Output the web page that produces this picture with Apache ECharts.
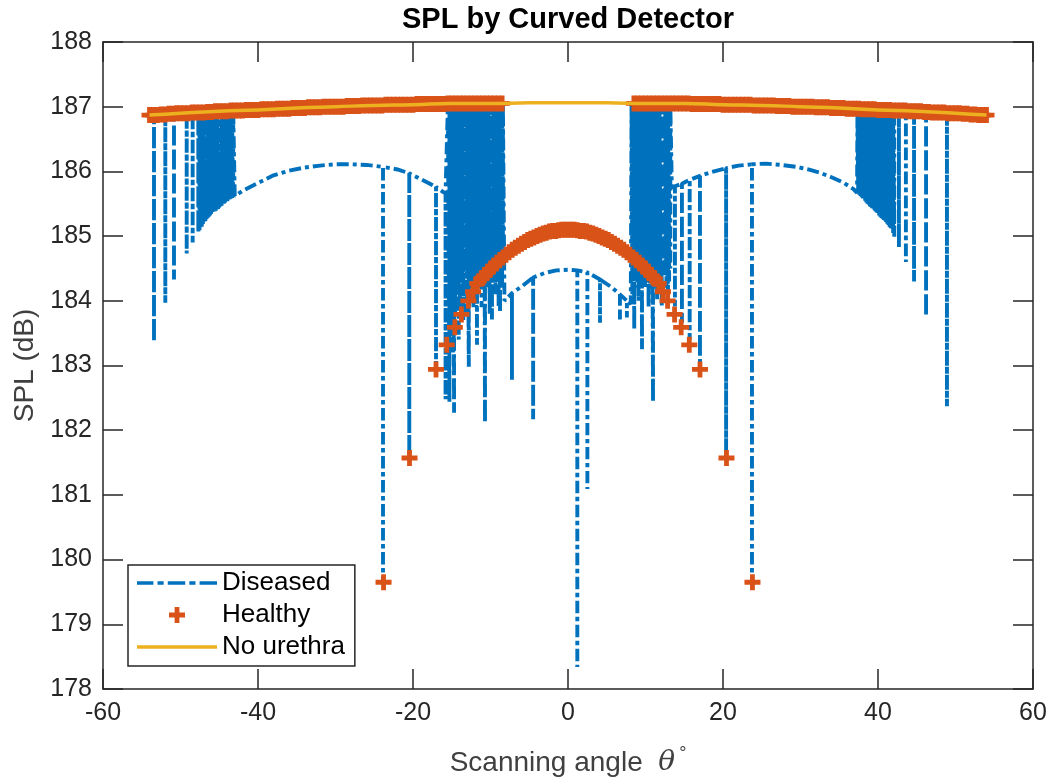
<!DOCTYPE html>
<html>
<head>
<meta charset="utf-8">
<script src="https://cdn.jsdelivr.net/npm/echarts@6/dist/echarts.min.js"></script>
<style>
  html, body { margin: 0; padding: 0; background: #fff; }
  #chart { width: 1052px; height: 782px; }
</style>
</head>
<body>
<div id="chart"></div>
<script>
// Diseased trace, left to right. [angle, level] is a plain point;
// [angle, level, dip] drops from level to dip and back at that angle.
const diseasedTrace = [
  [-53.8, 186.87],
  [-53.42, 186.87, 183.37], [-51.96, 186.88, 183.97], [-50.84, 186.89, 184.33],
  [-49.2, 186.90, 184.73], [-48.43, 186.91, 184.90],
  [-47.7,186.91,185.05],[-47.55,186.91,185.09],[-47.4,186.91,185.12],[-47.25,186.91,185.15],
  [-47.1,186.92,185.17],[-46.95,186.92,185.20],[-46.8,186.92,185.23],[-46.65,186.92,185.26],
  [-46.5,186.92,185.28],[-46.35,186.92,185.30],[-46.2,186.92,185.32],[-46.05,186.92,185.34],
  [-45.9,186.92,185.35],[-45.75,186.93,185.37],[-45.6,186.93,185.38],[-45.45,186.93,185.39],
  [-45.3,186.93,185.40],[-45.15,186.93,185.42],[-45.0,186.93,185.44],[-44.85,186.93,185.46],
  [-44.7,186.93,185.47],[-44.55,186.93,185.49],[-44.4,186.93,185.50],[-44.25,186.93,185.52],
  [-44.1,186.93,185.53],[-43.95,186.94,185.54],[-43.8,186.94,185.55],[-43.65,186.94,185.57],
  [-43.5,186.94,185.58],[-43.35,186.94,185.59],[-43.2,186.94,185.60],
  [-43.0, 186.94], [-43.0, 185.62],
  [-42.0, 185.70], [-40.0, 185.82], [-38.0, 185.94], [-36.0, 186.01],
  [-34.0, 186.06], [-32.0, 186.09], [-30.0, 186.11], [-28.0, 186.11],
  [-26.0, 186.10], [-23.87, 186.07, 179.65], [-22.0, 186.03],
  [-20.48, 185.97, 181.57], [-19.0, 185.88], [-17.03, 185.76, 182.96],
  [-16.1, 185.68], [-15.8, 185.66, 182.48],
  [-15.5, 187.04],
  [-15.3,187.04,182.44],[-15.15,187.04,184.0],[-15.0,187.04,183.60],[-14.85,187.04,183.2],
  [-14.7,187.04,182.27],[-14.55,187.04,183.8],[-14.4,187.04,184.20],[-14.25,187.04,184.1],
  [-14.1,187.04,183.40],[-13.95,187.04,183.9],[-13.8,187.04,184.40],[-13.65,187.05,184.3],
  [-13.5,187.05,183.70],[-13.35,187.05,184.2],[-13.2,187.05,184.50],[-13.0,187.05,183.8],
  [-12.8,187.05,182.98],[-12.65,187.05,184.4],[-12.5,187.05,184.30],[-12.35,187.05,184.0],
  [-12.2,187.05,183.90],[-12.08,187.05,184.3],[-11.95,187.05,184.50],[-11.85,187.05,183.9],
  [-11.74,187.05,183.32],[-11.6,187.05,184.2],[-11.45,187.05,184.40],[-11.3,187.05,184.5],
  [-11.15,187.05,183.90],[-11.02,187.05,184.2],[-10.9,187.05,184.60],[-10.8,187.05,184.4],
  [-10.71,187.05,182.12],[-10.55,187.05,184.2],[-10.4,187.05,184.50],[-10.25,187.05,184.4],
  [-10.1,187.05,183.80],[-9.95,187.05,184.2],[-9.81,187.05,183.71],[-9.65,187.05,184.5],
  [-9.5,187.05,184.30],[-9.35,187.05,184.1],[-9.2,187.05,184.60],[-9.07,187.05,184.4],
  [-8.95,187.05,183.90],[-8.85,187.05,184.5],[-8.77,187.05,183.82],[-8.62,187.05,184.3],
  [-8.5,187.05,184.20],[-8.4,187.05,184.5],
  [-8.3, 187.05],
  [-8.2, 184.00], [-7.23, 184.12, 182.78], [-6.0, 184.22],
  [-4.5, 184.36, 182.17], [-3.0, 184.43], [-1.5, 184.47], [0.0, 184.48],
  [1.2, 184.47, 178.34], [2.5, 184.44, 181.09], [4.13, 184.33, 183.66],
  [5.5, 184.22], [6.7, 184.10, 183.71], [7.6, 184.00, 183.74], [8.1, 183.95],
  [8.2, 187.05],
  [8.3,187.05,184.10],[8.42,187.05,184.3],[8.55,187.05,183.56],[8.68,187.05,184.5],
  [8.8,187.05,184.40],[8.95,187.05,184.2],[9.1,187.05,184.00],[9.22,187.05,184.5],
  [9.35,187.05,184.60],[9.45,187.05,184.2],[9.55,187.05,183.25],[9.68,187.05,184.5],
  [9.8,187.05,184.30],[9.95,187.05,184.2],[10.1,187.05,184.60],[10.25,187.05,184.4],
  [10.4,187.05,183.90],[10.55,187.05,184.2],[10.7,187.05,184.50],[10.83,187.05,184.4],
  [10.97,187.05,182.44],[11.08,187.05,184.6],[11.2,187.05,184.40],[11.35,187.05,184.3],
  [11.5,187.05,184.00],[11.65,187.05,184.5],[11.8,187.05,184.30],[11.95,187.05,184.2],
  [12.1,187.05,183.90],[12.25,187.05,184.4],[12.4,187.05,184.50],[12.55,187.05,184.6],
  [12.7,187.05,184.20],[12.8,187.05,184.4],[12.9,187.05,184.07],[13.05,187.05,184.3],
  [13.2,187.05,184.50],
  [13.3, 187.05],
  [13.4, 185.75], [13.8, 185.77, 183.91], [14.7, 185.81, 183.66],
  [15.7, 185.87, 183.40], [17.03, 185.93, 182.94], [18.5, 185.99],
  [20.4, 186.05, 181.57], [22.0, 186.09], [23.74, 186.11, 179.65],
  [25.5, 186.12], [27.5, 186.10], [29.5, 186.07], [31.0, 186.03],
  [32.5, 185.98], [34.0, 185.91], [35.5, 185.83], [36.8, 185.73], [37.3, 185.67],
  [37.35, 186.97],
  [37.45,186.97,185.66],[37.6,186.97,185.64],[37.75,186.97,185.62],[37.9,186.96,185.60],
  [38.05,186.96,185.58],[38.2,186.96,185.56],[38.35,186.96,185.54],[38.5,186.96,185.52],
  [38.65,186.96,185.50],[38.8,186.96,185.48],[38.95,186.96,185.46],[39.1,186.96,185.45],
  [39.25,186.96,185.43],[39.4,186.96,185.41],[39.55,186.96,185.40],[39.7,186.95,185.38],
  [39.85,186.95,185.36],[40.0,186.95,185.34],[40.15,186.95,185.32],[40.3,186.95,185.30],
  [40.45,186.95,185.28],[40.6,186.95,185.27],[40.75,186.95,185.25],[40.9,186.95,185.24],
  [41.05,186.95,185.22],[41.2,186.95,185.19],[41.35,186.94,185.17],[41.5,186.94,185.14],
  [41.65,186.94,185.12],[41.8,186.94,185.10],[41.95,186.94,185.05],[42.1,186.94,184.99],
  [42.7, 186.94, 184.83], [43.6, 186.93, 184.60],
  [44.65, 186.93, 184.30], [46.2, 186.92, 183.76], [48.9, 186.90, 182.37],
  [53.8, 186.87]
];

// Healthy samples: upper run (left), central arch, upper run (right)
const healthyBandLeft = [
  [-54,186.87],[-53.5,186.87],[-53,186.87],[-52.5,186.88],[-52,186.88],[-51.5,186.89],[-51,186.89],
  [-50.5,186.9],[-50,186.9],[-49.5,186.9],[-49,186.9],[-48.5,186.91],[-48,186.91],[-47.5,186.91],
  [-47,186.91],[-46.5,186.92],[-46,186.92],[-45.5,186.93],[-45,186.93],[-44.5,186.93],[-44,186.93],
  [-43.5,186.94],[-43,186.94],[-42.5,186.94],[-42,186.94],[-41.5,186.95],[-41,186.95],[-40.5,186.95],
  [-40,186.95],[-39.5,186.96],[-39,186.96],[-38.5,186.96],[-38,186.96],[-37.5,186.97],[-37,186.97],
  [-36.5,186.97],[-36,186.97],[-35.5,186.98],[-35,186.98],[-34.5,186.98],[-34,186.98],[-33.5,186.99],
  [-33,186.99],[-32.5,186.99],[-32,186.99],[-31.5,187],[-31,187],[-30.5,187],[-30,187],[-29.5,187],
  [-29,187],[-28.5,187.01],[-28,187.01],[-27.5,187.01],[-27,187.01],[-26.5,187.02],[-26,187.02],
  [-25.5,187.02],[-25,187.02],[-24.5,187.02],[-24,187.02],[-23.5,187.03],[-23,187.03],[-22.5,187.03],
  [-22,187.03],[-21.5,187.03],[-21,187.03],[-20.5,187.03],[-20,187.03],[-19.5,187.04],[-19,187.04],
  [-18.5,187.04],[-18,187.04],[-17.5,187.04],[-17,187.04],[-16.5,187.04],[-16,187.04],[-15.5,187.05],
  [-15,187.05],[-14.5,187.05],[-14,187.05],[-13.5,187.05],[-13,187.05],[-12.5,187.05],[-12,187.05],
  [-11.5,187.05],[-11,187.05],[-10.5,187.05],[-10,187.05],[-9.5,187.05],[-9,187.05],[-8.5,187.05]
];
const healthyArc = [
  [-23.8,179.65],[-20.45,181.57],[-17.03,182.94],[-15.65,183.32],[-14.6,183.59],[-13.75,183.79],
  [-12.85,184.0],[-12.25,184.14],[-11.7,184.27],[-11.2,184.34],[-10.8,184.39],[-10.4,184.44],
  [-10.0,184.49],[-9.6,184.54],[-9.2,184.59],[-8.8,184.63],[-8.4,184.67],[-8.0,184.71],[-7.6,184.75],
  [-7.2,184.79],[-6.8,184.82],[-6.4,184.85],[-6.0,184.88],[-5.6,184.91],[-5.2,184.94],[-4.8,184.96],
  [-4.4,184.98],[-4.0,185.0],[-3.6,185.02],[-3.2,185.04],[-2.8,185.05],[-2.4,185.07],[-2.0,185.08],
  [-1.6,185.08],[-1.2,185.09],[-0.8,185.1],[-0.4,185.1],[0,185.1],
  [0.4,185.1],[0.8,185.1],[1.2,185.09],[1.6,185.08],[2.0,185.08],[2.4,185.07],[2.8,185.05],
  [3.2,185.04],[3.6,185.02],[4.0,185.0],[4.4,184.98],[4.8,184.96],[5.2,184.94],[5.6,184.91],
  [6.0,184.88],[6.4,184.85],[6.8,184.82],[7.2,184.79],[7.6,184.75],[8.0,184.71],[8.4,184.67],
  [8.8,184.63],[9.2,184.59],[9.6,184.54],[10.0,184.49],[10.4,184.44],[10.8,184.39],[11.2,184.34],
  [11.7,184.27],[12.25,184.14],[12.85,184.0],[13.75,183.79],[14.6,183.59],[15.65,183.32],
  [17.03,182.94],[20.45,181.57],[23.8,179.65]
];
const healthyBandRight = [
  [8.5,187.05],[9,187.05],[9.5,187.05],[10,187.05],[10.5,187.05],[11,187.05],[11.5,187.05],
  [12,187.05],[12.5,187.05],[13,187.05],[13.5,187.05],[14,187.05],[14.5,187.05],[15,187.05],
  [15.5,187.05],[16,187.04],[16.5,187.04],[17,187.04],[17.5,187.04],[18,187.04],[18.5,187.04],
  [19,187.04],[19.5,187.04],[20,187.03],[20.5,187.03],[21,187.03],[21.5,187.03],[22,187.03],
  [22.5,187.03],[23,187.03],[23.5,187.03],[24,187.02],[24.5,187.02],[25,187.02],[25.5,187.02],
  [26,187.02],[26.5,187.02],[27,187.01],[27.5,187.01],[28,187.01],[28.5,187.01],[29,187],
  [29.5,187],[30,187],[30.5,187],[31,187],[31.5,187],[32,186.99],[32.5,186.99],[33,186.99],
  [33.5,186.99],[34,186.98],[34.5,186.98],[35,186.98],[35.5,186.98],[36,186.97],[36.5,186.97],
  [37,186.97],[37.5,186.97],[38,186.96],[38.5,186.96],[39,186.96],[39.5,186.96],[40,186.95],
  [40.5,186.95],[41,186.95],[41.5,186.95],[42,186.94],[42.5,186.94],[43,186.94],[43.5,186.94],
  [44,186.93],[44.5,186.93],[45,186.93],[45.5,186.93],[46,186.92],[46.5,186.92],[47,186.91],
  [47.5,186.91],[48,186.91],[48.5,186.91],[49,186.9],[49.5,186.9],[50,186.9],[50.5,186.9],
  [51,186.89],[51.5,186.89],[52,186.88],[52.5,186.88],[53,186.87],[53.5,186.87],[54,186.87]
];

// No urethra reference curve
const noUrethra = [
  [-54,186.87],[-50,186.9],[-45,186.93],[-40,186.95],[-35,186.98],[-30,187.0],[-25,187.02],
  [-20,187.03],[-15,187.05],[-10,187.05],[-5,187.06],[0,187.06],[5,187.06],[10,187.05],
  [15,187.05],[20,187.03],[25,187.02],[30,187.0],[35,186.98],[40,186.95],[45,186.93],
  [50,186.9],[54,186.87]
];

// Expand dip entries into down-and-back vertical strokes
function expandTrace(trace) {
  const pts = [];
  trace.forEach(function (p) {
    if (p.length === 3) {
      pts.push([p[0], p[1]], [p[0], p[2]], [p[0], p[1]]);
    } else {
      pts.push([p[0], p[1]]);
    }
  });
  return pts;
}

const BLUE = '#0072BD', ORANGE = '#D95319', YELLOW = '#EDB120', AXIS = '#262626';
const SANS = '"Liberation Sans", Arial, Helvetica, sans-serif';
const PLUS = 'path://M3.5,0H6.5V3.5H10V6.5H6.5V10H3.5V6.5H0V3.5H3.5Z';
// legend keys: dash-dot stroke and solid stroke
const DASHDOT_KEY = 'path://M0,0H16V3.6H0Z M20,0H26V3.6H20Z M30,0H47V3.6H30Z M51,0H57V3.6H51Z M61,0H78V3.6H61Z';
const SOLID_KEY = 'path://M0,0H78V3.6H0Z';

const axisLine = { show: true, onZero: false, lineStyle: { color: AXIS, width: 1.5 } };
const axisTick = { show: true, inside: true, length: 20, lineStyle: { color: AXIS, width: 1.5 } };

const chart = echarts.init(document.getElementById('chart'), null, { renderer: 'canvas' });

chart.setOption({
  animation: false,
  backgroundColor: '#fff',
  textStyle: { fontFamily: SANS },
  grid: { left: 103, right: 19, top: 42, bottom: 92, containLabel: false },
  graphic: [{
    type: 'text',
    x: 568, y: 20,
    style: {
      text: 'SPL by Curved Detector',
      font: 'bold 29px ' + SANS,
      fill: '#000',
      textAlign: 'center',
      textVerticalAlign: 'middle'
    }
  }],
  legend: {
    orient: 'vertical',
    left: 128, top: 565,
    backgroundColor: '#fff',
    borderColor: AXIS, borderWidth: 1.5, borderRadius: 0,
    padding: [3, 10, 4, 9],
    itemGap: 2,
    itemWidth: 80, itemHeight: 16,
    textStyle: { fontSize: 26, lineHeight: 30, color: '#000', fontFamily: SANS },
    data: [
      { name: 'Diseased', icon: DASHDOT_KEY },
      { name: 'Healthy', icon: PLUS },
      { name: 'No urethra', icon: SOLID_KEY }
    ]
  },
  xAxis: [{
    type: 'value', position: 'bottom',
    min: -60, max: 60, interval: 20,
    axisLine: axisLine, axisTick: axisTick,
    splitLine: { show: false },
    axisLabel: { color: AXIS, fontSize: 25, margin: 12, fontFamily: SANS, showMinLabel: true, showMaxLabel: true },
    name: '{a|Scanning angle  }{t|θ}{d|°}',
    nameLocation: 'middle', nameGap: 56,
    nameTextStyle: {
      rich: {
        a: { fontSize: 28, color: '#404040', fontFamily: SANS },
        t: { fontSize: 28, color: '#404040', fontStyle: 'italic', fontFamily: '"DejaVu Serif", serif' },
        d: { fontSize: 18, color: '#404040', fontFamily: SANS, padding: [0, 0, 18, 4] }
      }
    }
  }, {
    type: 'value', position: 'top',
    min: -60, max: 60, interval: 20,
    axisLine: axisLine, axisTick: axisTick,
    axisLabel: { show: false }, splitLine: { show: false }
  }],
  yAxis: [{
    type: 'value', position: 'left',
    min: 178, max: 188, interval: 1,
    axisLine: axisLine, axisTick: axisTick,
    splitLine: { show: false },
    axisLabel: { color: AXIS, fontSize: 25, margin: 11, fontFamily: SANS, showMinLabel: true, showMaxLabel: true },
    name: 'SPL (dB)',
    nameLocation: 'middle', nameGap: 61,
    nameTextStyle: { fontSize: 28, color: '#404040', fontFamily: SANS }
  }, {
    type: 'value', position: 'right',
    min: 178, max: 188, interval: 1,
    axisLine: axisLine, axisTick: axisTick,
    axisLabel: { show: false }, splitLine: { show: false }
  }],
  series: [{
    name: 'Diseased',
    type: 'line',
    xAxisIndex: 0, yAxisIndex: 0,
    z: 2,
    symbol: 'none', showSymbol: false,
    data: expandTrace(diseasedTrace),
    lineStyle: { color: BLUE, width: 3.9, type: [12, 4, 4, 4] },
    itemStyle: { color: BLUE },
    emphasis: { disabled: true }
  }, {
    name: 'Healthy',
    type: 'scatter',
    xAxisIndex: 0, yAxisIndex: 0,
    z: 3,
    symbol: PLUS, symbolSize: 16,
    data: healthyBandLeft.concat(healthyArc, healthyBandRight),
    itemStyle: { color: ORANGE, opacity: 1 },
    emphasis: { disabled: true }
  }, {
    name: 'No urethra',
    type: 'line',
    xAxisIndex: 0, yAxisIndex: 0,
    z: 4,
    symbol: 'none', showSymbol: false,
    smooth: true,
    data: noUrethra,
    lineStyle: { color: YELLOW, width: 3.5 },
    itemStyle: { color: YELLOW },
    emphasis: { disabled: true }
  }]
});
</script>
</body>
</html>
